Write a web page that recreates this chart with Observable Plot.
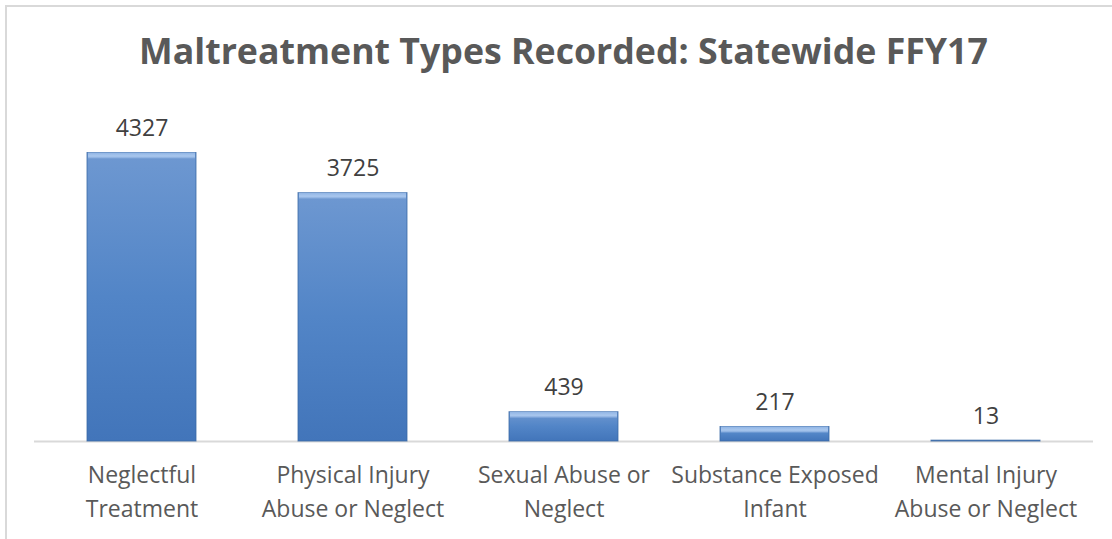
<!DOCTYPE html>
<html>
<head>
<meta charset="utf-8">
<script src="https://cdn.jsdelivr.net/npm/d3@7"></script>
<script src="https://cdn.jsdelivr.net/npm/@observablehq/plot@0.6"></script>
<style>
  html, body { margin: 0; padding: 0; background: #fff; overflow: hidden; width: 1112px; height: 539px; }
  #frame { position: absolute; left: 5px; top: 5px; width: 1130px; height: 560px; border: 2px solid #d9d9d9; box-sizing: border-box; }
  #wrap { position: absolute; left: 0; top: 0; width: 1112px; }
  #title { height: 100px; width: 1059px; margin-left: 34px; text-align: center; font-family: "Open Sans", sans-serif; font-weight: 700; font-size: 35.7px; color: #595959; line-height: 100px; box-sizing: border-box; padding-top: 0px; white-space: nowrap; }
</style>
</head>
<body>
<div id="frame"></div>
<div id="wrap"><div id="title">Maltreatment Types Recorded: Statewide FFY17</div><div id="chart"></div></div>
<script>
const categories = ["Neglectful\nTreatment", "Physical Injury\nAbuse or Neglect", "Sexual Abuse or\nNeglect", "Substance Exposed\nInfant", "Mental Injury\nAbuse or Neglect"];
const counts = [4327, 3725, 439, 217, 13];

const data = categories.map((c, i) => ({category: c, count: counts[i]}));

const plot = Plot.plot({
  width: 1112,
  height: 439,
  marginTop: 41,
  marginBottom: 98,
  marginLeft: 34,
  marginRight: 19,
  style: {fontFamily: "'Open Sans', sans-serif", background: "transparent", overflow: "visible"},
  x: {domain: categories, paddingInner: 0.485, paddingOuter: 0.2425, label: null},
  y: {domain: [0, 4500], axis: null},
  marks: [
    Plot.axisX({tickSize: 0, tickPadding: 17, fontSize: 23, lineHeight: 1.48, color: "#595959", label: null}),
    Plot.ruleY([0], {stroke: "#d9d9d9", strokeWidth: 2}),
    Plot.barY(data, {x: "category", y: "count", fill: "url(#barGrad)", stroke: "#3b69a5", strokeWidth: 1, strokeOpacity: 0.8}),
    Plot.barY(data.filter(d => d.count > 100), {x: "category", y1: "count", y2: "count", insetBottom: -6, insetLeft: 1, insetRight: 1, fill: "url(#bevelGrad)"}),
    Plot.text(data, {x: "category", y: "count", text: d => String(d.count), lineAnchor: "bottom", dy: -17, fontSize: 23, fill: "#404040"})
  ]
});

const svg = d3.select(plot);
const defs = svg.insert("defs", ":first-child");
const g = defs.append("linearGradient").attr("id", "barGrad").attr("x1", 0).attr("y1", 0).attr("x2", 0).attr("y2", 1);
g.append("stop").attr("offset", "0%").attr("stop-color", "#6e98d1");
g.append("stop").attr("offset", "50%").attr("stop-color", "#5285c7");
g.append("stop").attr("offset", "100%").attr("stop-color", "#4275ba");
const b = defs.append("linearGradient").attr("id", "bevelGrad").attr("x1", 0).attr("y1", 0).attr("x2", 0).attr("y2", 1);
b.append("stop").attr("offset", "0%").attr("stop-color", "#8fb4e4");
b.append("stop").attr("offset", "60%").attr("stop-color", "#a9c7ee");
b.append("stop").attr("offset", "100%").attr("stop-color", "#7ea5da");

document.getElementById("chart").append(plot);
</script>
</body>
</html>
